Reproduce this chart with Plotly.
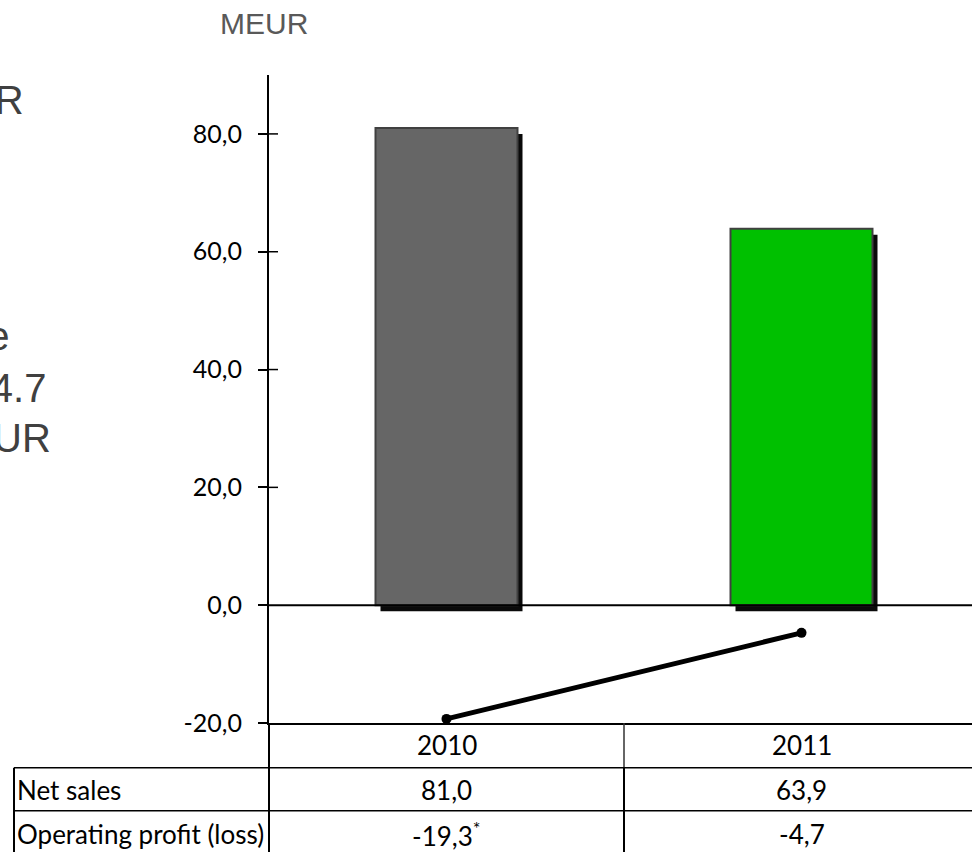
import plotly.graph_objects as go

# --- data -------------------------------------------------------------
years = ["2010", "2011"]
net_sales = [81.0, 63.9]
operating_profit = [-19.3, -4.7]
bar_colors = ["#666666", "#00C000"]
y_ticks = [-20, 0, 20, 40, 60, 80]
row_labels = ["Net sales", "Operating profit (loss)"]
profit_notes = ["*", ""]

# --- layout constants (pixels) ----------------------------------------
W, H = 972, 852
M_L, M_R, M_T, M_B = 269, 0, 75, 129
PW, PH = W - M_L - M_R, H - M_T - M_B
Y_RANGE = [-20, 90]
X_RANGE = [-0.5, -0.5 + PW / 355.0]
BAR_W = 0.40
SHADOW_DX = 5 / 355.0           # category units
SHADOW_DY = 6 / (PH / (Y_RANGE[1] - Y_RANGE[0]))  # value units

TABLE_FONT = dict(family="Lato", size=26, color="black")


def px_x(px):
    return (px - M_L) / PW


def px_y(py):
    return (M_T + PH - py) / PH


def fmt(v):
    return f"{v:.1f}".replace(".", ",")


fig = go.Figure()

# drop shadows behind the bars
fig.add_trace(go.Bar(
    x=years, y=net_sales, base=[-SHADOW_DY] * len(years),
    width=BAR_W, offset=-BAR_W / 2 + SHADOW_DX,
    marker=dict(color="#0a0a0a", line=dict(width=0)),
    hoverinfo="skip", showlegend=False,
))
# net sales bars
fig.add_trace(go.Bar(
    x=years, y=net_sales, width=BAR_W, offset=-BAR_W / 2,
    marker=dict(color=bar_colors, line=dict(color="#404040", width=2)),
    showlegend=False,
))
# operating profit line
fig.add_trace(go.Scatter(
    x=years, y=operating_profit, mode="lines+markers",
    line=dict(color="black", width=5),
    marker=dict(color="black", size=10),
    cliponaxis=False, showlegend=False,
))

shapes = []
# zero line drawn over the bars
shapes.append(dict(type="line", xref="paper", yref="y", x0=0, x1=1, y0=0, y1=0,
                   line=dict(color="black", width=2), layer="above"))
# inner half of the crossing tick marks
for v in y_ticks:
    if v > 0:
        shapes.append(dict(type="line", xref="paper", yref="y", x0=0, x1=9 / PW,
                           y0=v, y1=v, line=dict(color="black", width=1.5)))

# data table grid under the chart
t_left = px_x(14)
row1 = px_y(767.7)
row2 = px_y(810.7)
t_bottom = px_y(H + 20)
grid = dict(color="black", width=2)
shapes += [
    dict(type="line", xref="paper", yref="paper", x0=0, x1=0, y0=0, y1=t_bottom, line=grid),
    dict(type="line", xref="x", yref="paper", x0=0.5, x1=0.5, y0=0, y1=row1,
         line=dict(color="#333333", width=1.5)),
    dict(type="line", xref="x", yref="paper", x0=0.5, x1=0.5, y0=row1, y1=t_bottom, line=grid),
    dict(type="line", xref="paper", yref="paper", x0=t_left, x1=t_left, y0=row1, y1=t_bottom, line=grid),
    dict(type="line", xref="paper", yref="paper", x0=t_left, x1=1, y0=row1, y1=row1,
         line=dict(color="black", width=1.5)),
    dict(type="line", xref="paper", yref="paper", x0=t_left, x1=1, y0=row2, y1=row2,
         line=dict(color="black", width=1.5)),
]

annotations = []


def note(**kw):
    base = dict(showarrow=False, xanchor="center", yanchor="middle")
    base.update(kw)
    annotations.append(base)


# table header and cells (one column per category index)
for i, yr in enumerate(years):
    note(xref="x", yref="paper", x=i, y=px_y(745), text=yr, font=TABLE_FONT)
    note(xref="x", yref="paper", x=i, y=px_y(790), text=fmt(net_sales[i]), font=TABLE_FONT)
    star = f"<sup>{profit_notes[i]}</sup>" if profit_notes[i] else ""
    note(xref="x", yref="paper", x=i, y=px_y(834),
         text=fmt(operating_profit[i]) + star, font=TABLE_FONT)
note(xref="paper", yref="paper", x=px_x(15), y=px_y(790), text=row_labels[0],
     xanchor="left", font=TABLE_FONT)
note(xref="paper", yref="paper", x=px_x(15), y=px_y(834), text=row_labels[1],
     xanchor="left", font=TABLE_FONT)

# unit label
note(xref="paper", yref="paper", x=px_x(264), y=px_y(23), text="MEUR",
     font=dict(family="Liberation Sans", size=30, color="#595959"))

# side commentary text
side_font = dict(family="Liberation Sans", size=40, color="#404040")
for txt, right, cy in [("Net sales 63.9 MEUR", 26, 100),
                       ("Operating loss decrease", 12, 336),
                       ("to -4.7", 48, 388),
                       ("MEUR", 53, 438)]:
    note(xref="paper", yref="paper", x=px_x(right), y=px_y(cy), text=txt,
         xanchor="right", font=side_font)

fig.update_layout(
    width=W, height=H,
    margin=dict(l=M_L, r=M_R, t=M_T, b=M_B),
    paper_bgcolor="white", plot_bgcolor="white",
    barmode="overlay",
    shapes=shapes, annotations=annotations,
    xaxis=dict(type="category", range=X_RANGE, showgrid=False, zeroline=False,
               showticklabels=False, ticks="", showline=True, linecolor="black", linewidth=2),
    yaxis=dict(range=Y_RANGE, tickvals=y_ticks, ticktext=[fmt(v) for v in y_ticks],
               showgrid=False, zeroline=False, showline=True, linecolor="black", linewidth=2,
               ticks="outside", ticklen=9, tickwidth=1.5, tickcolor="black",
               ticklabelstandoff=11,
               tickfont=dict(family="Lato", size=25, color="black")),
)

fig.write_html("out.html")
